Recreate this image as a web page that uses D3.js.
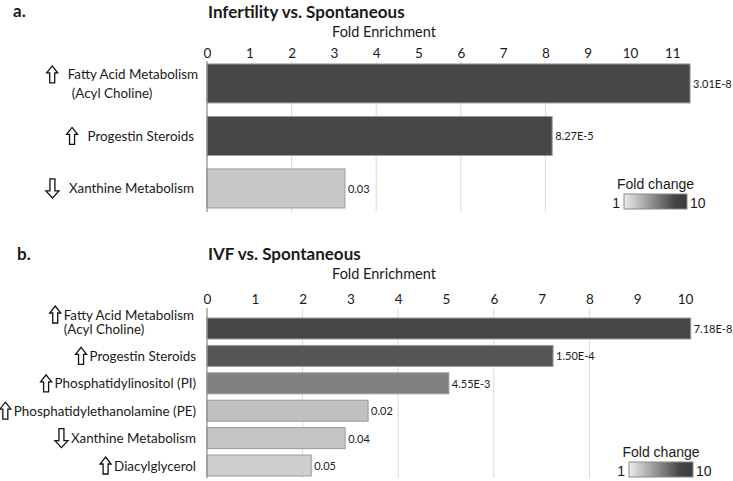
<!DOCTYPE html>
<html>
<head>
<meta charset="utf-8">
<script src="https://cdn.jsdelivr.net/npm/d3@7"></script>
<style>
  html, body { margin: 0; padding: 0; background: #fff; }
  svg { display: block; }
  text { font-family: Lato, "Open Sans", sans-serif; fill: #1a1a1a; }
</style>
</head>
<body>
<svg id="chart" width="733" height="481"></svg>
<script>
// ---------- DATA ----------
const titleA = "Infertility vs. Spontaneous";
const categoriesA = [["Fatty Acid Metabolism", "(Acyl Choline)"], ["Progestin Steroids"], ["Xanthine Metabolism"]];
const directionsA = ["up", "up", "down"];
const enrichmentA = [11.42, 8.16, 3.26];
const pValuesA = ["3.01E-8", "8.27E-5", "0.03"];
const foldChangeA = [9.4, 9.4, 2.7];
const ticksA = [0, 1, 2, 3, 4, 5, 6, 7, 8, 9, 10, 11];
const gridA = [2, 4, 6, 8];

const titleB = "IVF vs. Spontaneous";
const categoriesB = [["Fatty Acid Metabolism", "(Acyl Choline)"], ["Progestin Steroids"], ["Phosphatidylinositol (PI)"],
  ["Phosphatidylethanolamine (PE)"], ["Xanthine Metabolism"], ["Diacylglycerol"]];
const directionsB = ["up", "up", "up", "up", "down", "up"];
const enrichmentB = [10.12, 7.24, 5.06, 3.37, 2.89, 2.18];
const pValuesB = ["7.18E-8", "1.50E-4", "4.55E-3", "0.02", "0.04", "0.05"];
const foldChangeB = [9.5, 8.7, 6.4, 3.1, 2.9, 2.3];
const ticksB = [0, 1, 2, 3, 4, 5, 6, 7, 8, 9, 10];
const gridB = [2, 4, 6, 8];

const axisTitle = "Fold Enrichment";
const legendTitle = "Fold change";
const legendTicks = ["1", "10"];
const foldDomain = [1, 10];

// ---------- DRAW ----------
const svg = d3.select("#chart");
const color = d3.scaleLinear().domain(foldDomain).range(["#e8e8e8", "#3c3c3c"]);

const defs = svg.append("defs");
const grad = defs.append("linearGradient").attr("id", "fcgrad").attr("x1", "0%").attr("x2", "100%");
[[0, "#ececec"], [0.45, "#8e8e8e"], [0.8, "#454545"], [1, "#3c3c3c"]].forEach(([o, c]) =>
  grad.append("stop").attr("offset", o).attr("stop-color", c));

function arrowPath(dir, cx, cy, big) {
  const w = big ? 13 : 11, h = big ? 19 : 17, hh = 7, sw = 5;
  const top = cy - h / 2, bot = cy + h / 2;
  if (dir === "up") {
    return `M${cx},${top} L${cx + w / 2},${top + hh} L${cx + sw / 2},${top + hh} L${cx + sw / 2},${bot} L${cx - sw / 2},${bot} L${cx - sw / 2},${top + hh} L${cx - w / 2},${top + hh} Z`;
  }
  return `M${cx},${bot} L${cx + w / 2},${bot - hh} L${cx + sw / 2},${bot - hh} L${cx + sw / 2},${top} L${cx - sw / 2},${top} L${cx - sw / 2},${bot - hh} L${cx - w / 2},${bot - hh} Z`;
}

const catFont = "13.4px";

function panel(cfg) {
  const g = svg.append("g");
  const tmax = cfg.ticks[cfg.ticks.length - 1];
  const x = d3.scaleLinear().domain([0, tmax]).range([207, 207 + tmax * cfg.unit]);
  const y = d3.scaleBand().domain(d3.range(cfg.values.length)).range(cfg.yRange)
    .paddingInner(cfg.padIn).paddingOuter(cfg.padIn / 2);

  g.append("text").attr("x", cfg.letterX).attr("y", cfg.letterY).attr("dominant-baseline", "central")
    .style("font-weight", "bold").style("font-size", "17px").text(cfg.letter);
  g.append("text").attr("x", 208).attr("y", cfg.titleY).attr("dominant-baseline", "central")
    .style("font-weight", "bold").style("font-size", "17px").text(cfg.title);
  g.append("text").attr("x", 384).attr("y", cfg.axisTitleY).attr("text-anchor", "middle").attr("dominant-baseline", "central")
    .style("font-size", "14.5px").text(axisTitle);

  g.selectAll("line.grid").data(cfg.grid).join("line")
    .attr("x1", d => x(d)).attr("x2", d => x(d))
    .attr("y1", cfg.gridY[0]).attr("y2", cfg.gridY[1])
    .attr("stroke", "#d9d9d9").attr("stroke-width", 1);

  const axis = d3.axisTop(x).tickValues(cfg.ticks).tickSize(0).tickPadding(0).tickFormat(d3.format("d"));
  const ax = g.append("g").attr("transform", `translate(0,${cfg.tickY})`).call(axis);
  ax.select(".domain").remove();
  ax.selectAll("text").attr("dominant-baseline", "central").attr("dy", null)
    .style("font-family", "Lato, sans-serif").style("font-size", "13.5px").attr("fill", "#1a1a1a");

  g.selectAll("rect.bar").data(cfg.values).join("rect")
    .attr("x", x(0)).attr("y", (d, i) => y(i))
    .attr("width", d => x(d) - x(0)).attr("height", y.bandwidth())
    .attr("fill", (d, i) => color(cfg.fold[i]))
    .attr("stroke", "#9a9a9a").attr("stroke-width", 1);

  g.append("line").attr("x1", x(0)).attr("x2", x(0)).attr("y1", cfg.gridY[0]).attr("y2", cfg.gridY[1])
    .attr("stroke", "#8a8a8a").attr("stroke-width", 1.2);

  g.selectAll("text.val").data(cfg.values).join("text")
    .attr("x", d => x(d) + 3).attr("y", (d, i) => y(i) + y.bandwidth() / 2)
    .attr("dominant-baseline", "central").style("font-size", "11px")
    .text((d, i) => cfg.pvals[i]);

  cfg.cats.forEach((lines, i) => {
    const cy = y(i) + y.bandwidth() / 2;
    let startX, arrowY;
    if (lines.length === 1) {
      const t = g.append("text").attr("x", cfg.labelRight).attr("y", cy).attr("text-anchor", "end")
        .attr("dominant-baseline", "central").style("font-size", catFont).text(lines[0]);
      startX = cfg.labelRight - t.node().getComputedTextLength();
      arrowY = cy;
    } else {
      const y1 = cy + cfg.line1Off, y2 = cy + cfg.line2Off;
      const t1 = g.append("text").attr("x", cfg.labelRight2).attr("y", y1).attr("text-anchor", "end")
        .attr("dominant-baseline", "central").style("font-size", catFont).text(lines[0]);
      startX = cfg.labelRight2 - t1.node().getComputedTextLength();
      g.append("text").attr("x", startX + cfg.indent).attr("y", y2)
        .attr("dominant-baseline", "central").style("font-size", catFont).text(lines[1]);
      arrowY = y1;
    }
    const big = cfg.dirs[i] === "down";
    g.append("path").attr("d", arrowPath(cfg.dirs[i], startX - cfg.arrowGap - (big ? 6.5 : 5.5), arrowY, big))
      .attr("fill", "#fff").attr("stroke", "#111").attr("stroke-width", 1.3).attr("stroke-linejoin", "miter");
  });

  const L = cfg.legend;
  const lf = "'Liberation Sans', Arial, sans-serif";
  g.append("text").attr("x", L.x + L.w / 2).attr("y", L.y - 10).attr("text-anchor", "middle").attr("dominant-baseline", "central")
    .style("font-family", lf).style("font-size", "14px").text(legendTitle);
  g.append("rect").attr("x", L.x).attr("y", L.y).attr("width", L.w).attr("height", L.h)
    .attr("fill", "url(#fcgrad)").attr("stroke", "#8a8a8a").attr("stroke-width", 1);
  g.append("text").attr("x", L.x - 4).attr("y", L.y + L.h / 2 + 1).attr("text-anchor", "end").attr("dominant-baseline", "central")
    .style("font-family", lf).style("font-size", "14px").text(legendTicks[0]);
  g.append("text").attr("x", L.x + L.w + 3).attr("y", L.y + L.h / 2 + 1).attr("dominant-baseline", "central")
    .style("font-family", lf).style("font-size", "14px").text(legendTicks[1]);
}

panel({
  letter: "a.", letterX: 13, letterY: 10, title: titleA, titleY: 11, axisTitleY: 31, tickY: 53,
  ticks: ticksA, grid: gridA, unit: 42.3, values: enrichmentA, pvals: pValuesA, fold: foldChangeA,
  cats: categoriesA, dirs: directionsA,
  yRange: [57.2, 214.7], padIn: 0.257, gridY: [61, 212],
  labelRight: 194, labelRight2: 198, line1Off: -9, line2Off: 9.5, indent: 4, arrowGap: 10,
  legend: { x: 624, y: 194, w: 63, h: 15 }
});

panel({
  letter: "b.", letterX: 17, letterY: 253, title: titleB, titleY: 253, axisTitleY: 273, tickY: 299,
  ticks: ticksB, grid: gridB, unit: 47.8, values: enrichmentB, pvals: pValuesB, fold: foldChangeB,
  cats: categoriesB, dirs: directionsB,
  yRange: [314.8, 479.2], padIn: 0.234, gridY: [308, 478],
  labelRight: 196, labelRight2: 194, line1Off: -14, line2Off: 0.5, indent: 0, arrowGap: 3,
  legend: { x: 629, y: 462, w: 64, h: 15 }
});
</script>
</body>
</html>
